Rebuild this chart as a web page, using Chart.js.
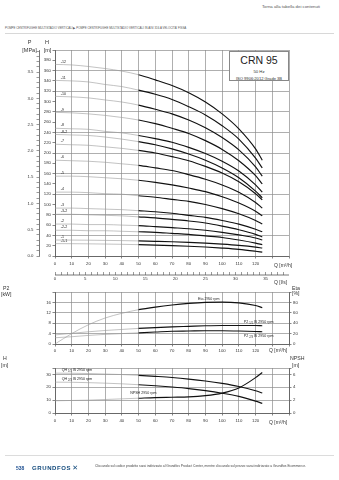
<!DOCTYPE html>
<html lang="it">
<head>
<meta charset="utf-8">
<title>CRN 95</title>
<script src="https://cdn.jsdelivr.net/npm/chart.js@4.4.1/dist/chart.umd.min.js"></script>
<style>
  html, body { margin: 0; padding: 0; background: #fff; }
  body { width: 339px; height: 480px; position: relative; overflow: hidden;
         font-family: "Liberation Sans", Arial, sans-serif; color: #333; }
  canvas { position: absolute; left: 0; }
  .t { position: absolute; white-space: nowrap; line-height: 1; }
  .c { transform: translateX(-50%); }
  #box { position: absolute; left: 229px; top: 51px; width: 60px; height: 30px; background: #fff;
         border: 0.6px solid #888; box-sizing: border-box; text-align: center; line-height: 1; color: #333; }
</style>
</head>
<body>
<div class="t" style="right:19px;top:5px;font-size:4.3px;color:#555">Torna alla tabella dei contenuti</div>
<div class="t" style="left:5px;top:27px;font-size:2.9px;color:#555">POMPE CENTRIFUGHE MULTISTADIO VERTICALI ▶ POMPE CENTRIFUGHE MULTISTADIO VERTICALI IN AISI 316 A VELOCITA' FISSA</div>
<div style="position:absolute;left:5px;right:5px;top:33px;border-top:0.5px solid #d8d8d8"></div>

<canvas id="main" width="339" height="250" style="top:40px"></canvas>
<canvas id="power" width="339" height="72" style="top:286px"></canvas>
<canvas id="npsh" width="339" height="75" style="top:358px"></canvas>

<div id="box">
  <div style="font-size:10.5px;padding-top:2.5px;color:#222">CRN 95</div>
  <div style="font-size:4.3px;margin-top:4.5px">50 Hz</div>
  <div style="font-size:4.1px;margin-top:2.8px">ISO 9906:2012 Grade 3B</div>
</div>

<div class="t c" style="left:29.5px;top:40px;font-size:5.5px">P</div>
<div class="t c" style="left:29.5px;top:48px;font-size:5.5px">[MPa]</div>
<div class="t c" style="left:47px;top:40px;font-size:5.5px">H</div>
<div class="t c" style="left:47.5px;top:48px;font-size:5.5px">[m]</div>
<div class="t" style="left:274px;top:262.5px;font-size:5px">Q [m³/h]</div>
<div class="t" style="left:274px;top:279.5px;font-size:5px">Q [l/s]</div>

<div class="t" style="left:3px;top:286px;font-size:5.2px">P2</div>
<div class="t" style="left:1px;top:291.5px;font-size:5.2px">[kW]</div>
<div class="t" style="left:292px;top:285.5px;font-size:5.2px">Eta</div>
<div class="t" style="left:292px;top:291px;font-size:5.2px">[%]</div>
<div class="t" style="left:269px;top:347.5px;font-size:5px">Q [m³/h]</div>

<div class="t" style="left:3px;top:355.5px;font-size:5.2px">H</div>
<div class="t" style="left:1px;top:363px;font-size:5.2px">[m]</div>
<div class="t" style="left:290px;top:356px;font-size:5.2px">NPSH</div>
<div class="t" style="left:292px;top:363px;font-size:5.2px">[m]</div>
<div class="t" style="left:269px;top:419.5px;font-size:5px">Q [m³/h]</div>

<div style="position:absolute;left:5px;right:5px;top:455px;border-top:0.5px solid #dcdcdc"></div>
<div class="t" style="left:16px;top:465.5px;font-size:5px;color:#1d4f91;font-weight:bold">538</div>
<div class="t" style="left:32px;top:464.5px;font-size:6px;color:#11497b;font-weight:bold;letter-spacing:0.6px">GRUNDFOS<span style="font-family:'DejaVu Sans';font-size:7px;margin-left:1px">✕</span></div>
<div class="t" style="left:95px;top:465px;font-size:3.3px;color:#444">Cliccando sul codice prodotto sarai indirizzato al Grundfos Product Center, mentre cliccando sul prezzo sarai indirizzato a Grundfos Ecommerce.</div>

<script>
// flow points (m3/h) shared by every curve
const qFlow = [0, 10, 20, 30, 40, 50, 60, 70, 80, 90, 100, 110, 120, 124];

// head curves H [m]
const h12 = [372, 371, 368, 364, 359, 352, 342, 331, 317, 299, 276, 247, 208, 186];
const h11 = [341, 340, 338, 333, 329, 322, 314, 304, 290, 274, 253, 227, 190, 171];
const h10 = [310, 309, 307, 303, 299, 293, 285, 276, 264, 249, 230, 206, 173, 155];
const h9 = [279, 278, 276, 273, 269, 264, 257, 248, 238, 224, 207, 185, 156, 140];
const h8 = [248, 247, 246, 242, 239, 234, 228, 221, 211, 199, 184, 165, 138, 124];
const h8_2 = [236, 235, 234, 231, 227, 222, 216, 208, 198, 186, 171, 152, 126, 113];
const h7 = [217, 216, 215, 212, 209, 205, 200, 193, 185, 174, 161, 144, 121, 109];
const h6 = [186, 185, 184, 182, 179, 176, 171, 166, 158, 149, 138, 124, 104, 93];
const h5 = [155, 155, 154, 152, 150, 147, 143, 138, 132, 125, 115, 103, 87, 78];
const h4 = [124, 124, 123, 121, 120, 117, 114, 110, 106, 100, 92, 82, 69, 62];
const h3 = [93, 93, 92, 91, 90, 88, 86, 83, 79, 75, 69, 62, 52, 47];
const h3_2 = [81, 81, 80, 79, 78, 76, 74, 71, 68, 64, 58, 51, 42, 37];
const h2 = [62, 62, 61, 61, 60, 59, 57, 55, 53, 50, 46, 41, 35, 31];
const h2_2 = [50, 50, 49, 49, 48, 47, 46, 44, 42, 39, 36, 31, 25, 22];
const h1 = [31, 30.9, 30.7, 30.3, 29.9, 29.3, 28.5, 27.6, 26.4, 24.9, 23, 20.6, 17.3, 15.5];
const h1_1 = [24, 23.9, 23.6, 23.2, 22.7, 22, 21.2, 20.2, 19, 17.4, 15.4, 12.9, 9.2, 7.5];
const stageNames = ['-12', '-11', '-10', '-9', '-8', '-8-2', '-7', '-6', '-5', '-4', '-3', '-3-2', '-2', '-2-2', '-1', '-1-1'];
const stageCurves = [h12, h11, h10, h9, h8, h8_2, h7, h6, h5, h4, h3, h3_2, h2, h2_2, h1, h1_1];

// power / efficiency
const eta = [0, 20, 37, 50, 59, 66, 71, 75, 78, 80, 80.5, 79, 74, 70];
const p2Full = [3.5, 4.1, 4.7, 5.2, 5.6, 6.0, 6.3, 6.6, 6.8, 7.0, 7.1, 7.1, 7.1, 7.0];
const p2Red = [2.4, 2.8, 3.3, 3.7, 4.0, 4.3, 4.6, 4.9, 5.0, 5.1, 5.1, 5.0, 4.8, 4.7];

// NPSH [m]
const npsh = [1.9, 1.95, 2.0, 2.1, 2.2, 2.3, 2.4, 2.45, 2.5, 2.7, 3.1, 3.9, 5.5, 6.3];

const ink = '#111';
const soft = '#9a9a9a';
const gridCol = '#8c8c8c';
const axisCol = '#555';
const tickFont = { family: 'Liberation Sans', size: 4.3 };
const noteFont = '3.6px "Liberation Sans"';
const subFont = '2.6px "Liberation Sans"';

const fixSize = n => s => { if (s.isHorizontal()) s.height = n; else s.width = n; };

function curve(vals, axis) {
  return {
    data: qFlow.map((q, i) => ({ x: q, y: vals[i] })),
    yAxisID: axis,
    pointRadius: 0,
    fill: false,
    cubicInterpolationMode: 'monotone',
    borderColor: ink,
    borderWidth: 1.1,
    segment: {
      borderColor: c => c.p0.parsed.x < 48 ? soft : ink,
      borderWidth: c => c.p0.parsed.x < 48 ? 0.6 : 1.15
    }
  };
}

function xAxis(height, pad) {
  return {
    type: 'linear', position: 'bottom', min: 0, max: 140, afterFit: fixSize(height),
    ticks: { stepSize: 10, autoSkip: false, maxRotation: 0, padding: pad, font: tickFont, color: '#333',
             callback: v => v <= 120 ? v : '' },
    grid: { color: gridCol, lineWidth: 0.7, tickLength: 2.5, tickColor: axisCol },
    border: { color: axisCol, width: 0.8 }
  };
}

function yAxis(pos, min, max, step, width, onArea, extra) {
  return Object.assign({
    type: 'linear', position: pos, min: min, max: max, afterFit: fixSize(width),
    ticks: { stepSize: step, autoSkip: false, padding: 1.5, font: tickFont, color: '#333',
             callback: v => v < max ? v : '' },
    grid: { drawOnChartArea: onArea, color: gridCol, lineWidth: 0.7, tickLength: 2.5, tickColor: axisCol },
    border: { color: axisCol, width: 0.8 }
  }, extra || {});
}

// draws text pieces (with small lowered sub parts) at data positions
function notes(items) {
  return {
    id: 'notes',
    afterDatasetsDraw(chart) {
      const ctx = chart.ctx;
      ctx.save();
      ctx.fillStyle = '#222';
      ctx.textBaseline = 'middle';
      items.forEach(it => {
        let x = chart.scales.x.getPixelForValue(it.q);
        const y = chart.scales[it.axis].getPixelForValue(it.v);
        let total = 0;
        it.parts.forEach(p => { ctx.font = p[1] ? subFont : noteFont; total += ctx.measureText(p[0]).width; });
        if (it.center) x -= total / 2;
        ctx.textAlign = 'left';
        it.parts.forEach(p => {
          ctx.font = p[1] ? subFont : noteFont;
          ctx.fillText(p[0], x, p[1] ? y + 1 : y);
          x += ctx.measureText(p[0]).width;
        });
      });
      ctx.restore();
    }
  };
}

const stageLabels = {
  id: 'stageLabels',
  afterDatasetsDraw(chart) {
    const ctx = chart.ctx;
    ctx.save();
    ctx.fillStyle = '#222';
    ctx.font = noteFont;
    ctx.textAlign = 'left';
    ctx.textBaseline = 'bottom';
    stageCurves.forEach((vals, i) => {
      const x = chart.scales.x.getPixelForValue(3.5);
      const y = chart.scales.yH.getPixelForValue(vals[0]);
      ctx.fillText(stageNames[i], x, y - 1);
    });
    ctx.restore();
  }
};

const lsLine = {
  id: 'lsLine',
  afterDraw(chart) {
    const s = chart.scales.xls, ctx = chart.ctx;
    const y = s.top + 3;
    ctx.save();
    ctx.strokeStyle = axisCol;
    ctx.lineWidth = 0.8;
    ctx.beginPath();
    ctx.moveTo(chart.chartArea.left, y);
    ctx.lineTo(chart.chartArea.right, y);
    ctx.stroke();
    ctx.restore();
  }
};

const baseOpts = {
  responsive: false, animation: false, events: [],
  plugins: { legend: { display: false }, tooltip: { enabled: false } }
};

const hMax = 400;
const mpaPerM = 101.97;

new Chart(document.getElementById('main'), {
  type: 'line',
  data: { datasets: stageCurves.map(v => curve(v, 'yH')) },
  options: Object.assign({}, baseOpts, {
    layout: { padding: { left: 0, right: 50, top: 10, bottom: 4 } },
    scales: {
      x: xAxis(16, 3),
      xls: {
        type: 'linear', position: 'bottom', weight: 1, min: 0, max: 140 / 3.6, afterFit: fixSize(14),
        ticks: { stepSize: 1, includeBounds: false, autoSkip: false, maxRotation: 0, padding: 1.5,
                 font: tickFont, color: '#333', callback: v => v % 5 === 0 ? v : '' },
        grid: { drawOnChartArea: false, tickLength: 3, tickColor: axisCol, lineWidth: 0.6 },
        border: { display: false }
      },
      yH: yAxis('left', 0, hMax, 20, 16, true, {
        weight: 0,
        grid: { color: c => (c.tick && c.tick.value % 40 === 0) ? gridCol : 'rgba(0,0,0,0)',
                lineWidth: 0.7, tickLength: 2.5, tickColor: axisCol }
      }),
      yP: {
        type: 'linear', position: 'left', weight: 1, min: 0, max: hMax / mpaPerM, afterFit: fixSize(39),
        ticks: { stepSize: 0.1, includeBounds: false, autoSkip: false, padding: 3, font: tickFont, color: '#333',
                 callback: v => Math.abs(v * 2 - Math.round(v * 2)) < 1e-6 ? v.toFixed(1) : '' },
        grid: { drawOnChartArea: false, tickLength: 2.5, tickColor: axisCol, lineWidth: 0.6 },
        border: { color: axisCol, width: 0.8 }
      }
    }
  }),
  plugins: [stageLabels, lsLine]
});

new Chart(document.getElementById('power'), {
  type: 'line',
  data: { datasets: [curve(eta, 'yE'), curve(p2Full, 'yP2'), curve(p2Red, 'yP2')] },
  options: Object.assign({}, baseOpts, {
    layout: { padding: { left: 0, right: 36, top: 6, bottom: 0 } },
    scales: {
      x: xAxis(14, 1.5),
      yP2: yAxis('left', 0, 20, 4, 55, true),
      yE: yAxis('right', 0, 100, 20, 14, false)
    }
  }),
  plugins: [notes([
    { q: 92, v: 87, axis: 'yE', center: true, parts: [['Eta 2950 rpm']] },
    { q: 113, v: 8.3, axis: 'yP2', parts: [['P2 '], ['1/1', 1], [' IS 2950 rpm']] },
    { q: 113, v: 3.0, axis: 'yP2', parts: [['P2 '], ['2/3', 1], [' IS 2950 rpm']] }
  ])]
});

new Chart(document.getElementById('npsh'), {
  type: 'line',
  data: { datasets: [curve(h1, 'yH'), curve(h1_1, 'yH'), curve(npsh, 'yN')] },
  options: Object.assign({}, baseOpts, {
    layout: { padding: { left: 0, right: 36, top: 10, bottom: 6 } },
    scales: {
      x: xAxis(14, 3),
      yH: yAxis('left', 0, 35, 10, 55, true),
      yN: yAxis('right', 0, 7, 2, 14, false)
    }
  }),
  plugins: [notes([
    { q: 4, v: 33.3, axis: 'yH', parts: [['QH '], ['1/1', 1], [' IS 2950 rpm']] },
    { q: 4, v: 26.3, axis: 'yH', parts: [['QH '], ['2/3', 1], [' IS 2950 rpm']] },
    { q: 45, v: 3.1, axis: 'yN', parts: [['NPSH 2950 rpm']] }
  ])]
});
</script>
</body>
</html>
